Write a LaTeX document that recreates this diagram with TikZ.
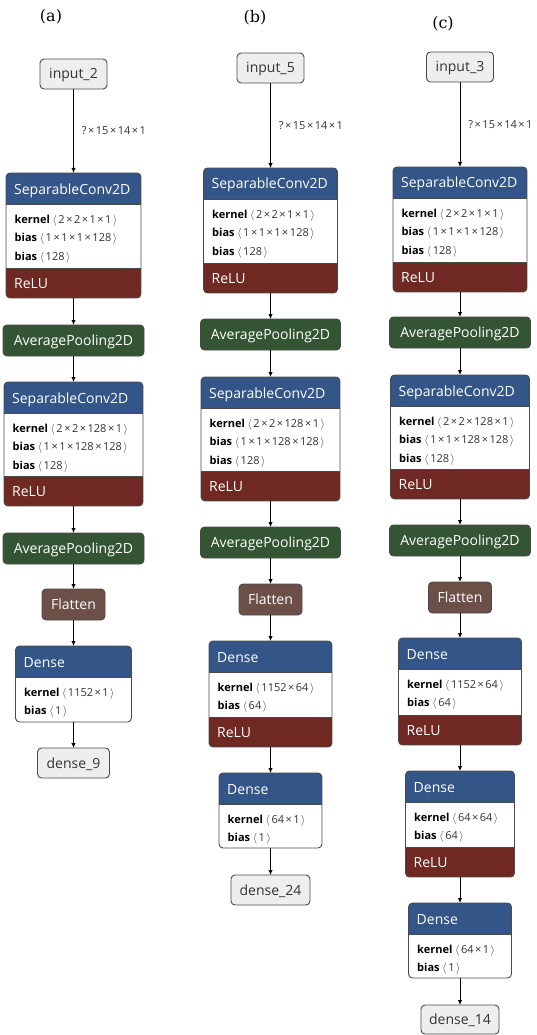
\documentclass[tikz,border=0pt]{standalone}
\usepackage{fontspec}
\setsansfont{Open Sans}
\newfontfamily\tagfont{DejaVu Serif}
\usetikzlibrary{arrows.meta}

\definecolor{convblue}{HTML}{335588}
\definecolor{relured}{HTML}{6F2922}
\definecolor{poolgreen}{HTML}{335533}
\definecolor{shapebrown}{HTML}{6C4F47}
\definecolor{iogray}{HTML}{EEEEEE}
\definecolor{bordergray}{HTML}{4A4A4A}
\definecolor{textgray}{HTML}{333333}

\newcommand{\headfont}{\sffamily\fontsize{14}{16}\selectfont}
\newcommand{\bodyfont}{\sffamily\fontsize{11}{18.5}\selectfont}
\newcommand{\tms}{\kern1.5pt×\kern1.5pt}
\newcommand{\dimsof}[1]{\textcolor{textgray}{$\langle$\kern1.5pt#1\kern1.5pt$\rangle$}}

\tikzset{
  layer/.style={draw=bordergray, line width=0.9pt, rounded corners=4pt, fill=white,
    anchor=north, inner sep=0pt, outer sep=0pt},
  io/.style={layer, fill=iogray, minimum height=30pt, font=\headfont, text=textgray,
    text height=10pt, text depth=0pt},
  pool/.style={layer, fill=poolgreen, minimum height=31pt, font=\headfont, text=white,
    text height=10pt, text depth=0pt},
  flat/.style={pool, fill=shapebrown},
  convhead/.style={path picture={
    \fill[convblue, sharp corners] (path picture bounding box.north west)
      rectangle ([yshift=-31pt]path picture bounding box.north east);
    \draw[bordergray, line width=0.6pt, sharp corners] ([yshift=-31pt]path picture bounding box.north west)
      -- ([yshift=-31pt]path picture bounding box.north east);}},
  convrelu/.style={path picture={
    \fill[convblue, sharp corners] (path picture bounding box.north west)
      rectangle ([yshift=-31pt]path picture bounding box.north east);
    \draw[bordergray, line width=0.6pt, sharp corners] ([yshift=-31pt]path picture bounding box.north west)
      -- ([yshift=-31pt]path picture bounding box.north east);
    \fill[relured, sharp corners] (path picture bounding box.south west)
      rectangle ([yshift=30pt]path picture bounding box.south east);
    \draw[bordergray, line width=0.6pt, sharp corners] ([yshift=30pt]path picture bounding box.south west)
      -- ([yshift=30pt]path picture bounding box.south east);}},
  headtxt/.style={anchor=base west, inner sep=0pt, font=\headfont, text=white},
  bodytxt/.style={anchor=north west, inner sep=0pt, align=left, font=\bodyfont, text=black},
  shapelbl/.style={right, xshift=7pt, inner sep=1pt, font=\bodyfont, text=textgray},
  arr/.style={draw=black, line width=0.9pt, -{Latex[length=5pt,width=4.5pt]}},
  tag/.style={font=\tagfont\fontsize{16}{19}\selectfont, inner sep=0pt}
}

\begin{document}
\begin{tikzpicture}[x=1pt,y=-1pt]
\useasboundingbox (0,0) rectangle (536,1035);

% (a)
\node[tag] (taga) at (51,17) {(a)};
\node[io, minimum width=67pt] (ina) at (73.5,59) {input\_2};
\node[layer, convrelu, minimum width=135pt, minimum height=125pt] (a1) at (73.5,173) {};
\node[headtxt] (a1h) at ([xshift=8pt,yshift=-21pt]a1.north west) {SeparableConv2D};
\node[bodytxt] (a1b) at ([xshift=8.5pt,yshift=-37pt]a1.north west) {\strut\textbf{kernel} \dimsof{2\tms2\tms1\tms1}\\\textbf{bias} \dimsof{1\tms1\tms1\tms128}\\\textbf{bias} \dimsof{128}};
\node[headtxt] (a1r) at ([xshift=8pt,yshift=10pt]a1.south west) {ReLU};
\node[pool, minimum width=141pt] (a2) at (73.5,325) {AveragePooling2D};
\node[layer, convrelu, minimum width=139pt, minimum height=124pt] (a3) at (73.5,382) {};
\node[headtxt] (a3h) at ([xshift=8pt,yshift=-21pt]a3.north west) {SeparableConv2D};
\node[bodytxt] (a3b) at ([xshift=8.5pt,yshift=-37pt]a3.north west) {\strut\textbf{kernel} \dimsof{2\tms2\tms128\tms1}\\\textbf{bias} \dimsof{1\tms1\tms128\tms128}\\\textbf{bias} \dimsof{128}};
\node[headtxt] (a3r) at ([xshift=8pt,yshift=10pt]a3.south west) {ReLU};
\node[pool, minimum width=141pt] (a4) at (73.5,533) {AveragePooling2D};
\node[flat, minimum width=63pt] (a5) at (73.5,589) {Flatten};
\node[layer, convhead, minimum width=116pt, minimum height=76pt] (a6) at (73.5,646) {};
\node[headtxt] (a6h) at ([xshift=8pt,yshift=-21pt]a6.north west) {Dense};
\node[bodytxt] (a6b) at ([xshift=8.5pt,yshift=-37pt]a6.north west) {\strut\textbf{kernel} \dimsof{1152\tms1}\\\textbf{bias} \dimsof{1}};
\node[io, minimum width=72pt] (outa) at (73.5,748) {dense\_9};

\draw[arr] (ina) -- node[shapelbl] {?\tms15\tms14\tms1} (a1);
\draw[arr] (a1) -- (a2);
\draw[arr] (a2) -- (a3);
\draw[arr] (a3) -- (a4);
\draw[arr] (a4) -- (a5);
\draw[arr] (a5) -- (a6);
\draw[arr] (a6) -- (outa);

% (b)
\node[tag] (tagb) at (255,18) {(b)};
\node[io, minimum width=67pt] (inb) at (270.5,53) {input\_5};
\node[layer, convrelu, minimum width=134pt, minimum height=125pt] (b1) at (270.5,168) {};
\node[headtxt] (b1h) at ([xshift=8pt,yshift=-21pt]b1.north west) {SeparableConv2D};
\node[bodytxt] (b1b) at ([xshift=8.5pt,yshift=-37pt]b1.north west) {\strut\textbf{kernel} \dimsof{2\tms2\tms1\tms1}\\\textbf{bias} \dimsof{1\tms1\tms1\tms128}\\\textbf{bias} \dimsof{128}};
\node[headtxt] (b1r) at ([xshift=8pt,yshift=10pt]b1.south west) {ReLU};
\node[pool, minimum width=140pt] (b2) at (270.5,319) {AveragePooling2D};
\node[layer, convrelu, minimum width=139pt, minimum height=124pt] (b3) at (270.5,377) {};
\node[headtxt] (b3h) at ([xshift=8pt,yshift=-21pt]b3.north west) {SeparableConv2D};
\node[bodytxt] (b3b) at ([xshift=8.5pt,yshift=-37pt]b3.north west) {\strut\textbf{kernel} \dimsof{2\tms2\tms128\tms1}\\\textbf{bias} \dimsof{1\tms1\tms128\tms128}\\\textbf{bias} \dimsof{128}};
\node[headtxt] (b3r) at ([xshift=8pt,yshift=10pt]b3.south west) {ReLU};
\node[pool, minimum width=140pt] (b4) at (270.5,527) {AveragePooling2D};
\node[flat, minimum width=63pt] (b5) at (270.5,584) {Flatten};
\node[layer, convrelu, minimum width=123pt, minimum height=106pt] (b6) at (270.5,641) {};
\node[headtxt] (b6h) at ([xshift=8pt,yshift=-21pt]b6.north west) {Dense};
\node[bodytxt] (b6b) at ([xshift=8.5pt,yshift=-37pt]b6.north west) {\strut\textbf{kernel} \dimsof{1152\tms64}\\\textbf{bias} \dimsof{64}};
\node[headtxt] (b6r) at ([xshift=8pt,yshift=10pt]b6.south west) {ReLU};
\node[layer, convhead, minimum width=103pt, minimum height=75pt] (b7) at (270.5,773) {};
\node[headtxt] (b7h) at ([xshift=8pt,yshift=-21pt]b7.north west) {Dense};
\node[bodytxt] (b7b) at ([xshift=8.5pt,yshift=-37pt]b7.north west) {\strut\textbf{kernel} \dimsof{64\tms1}\\\textbf{bias} \dimsof{1}};
\node[io, minimum width=79pt] (outb) at (270.5,875) {dense\_24};

\draw[arr] (inb) -- node[shapelbl] {?\tms15\tms14\tms1} (b1);
\draw[arr] (b1) -- (b2);
\draw[arr] (b2) -- (b3);
\draw[arr] (b3) -- (b4);
\draw[arr] (b4) -- (b5);
\draw[arr] (b5) -- (b6);
\draw[arr] (b6) -- (b7);
\draw[arr] (b7) -- (outb);

% (c)
\node[tag] (tagc) at (443,24) {(c)};
\node[io, minimum width=67pt] (inc) at (460,52) {input\_3};
\node[layer, convrelu, minimum width=134pt, minimum height=125pt] (c1) at (460,167) {};
\node[headtxt] (c1h) at ([xshift=8pt,yshift=-21pt]c1.north west) {SeparableConv2D};
\node[bodytxt] (c1b) at ([xshift=8.5pt,yshift=-37pt]c1.north west) {\strut\textbf{kernel} \dimsof{2\tms2\tms1\tms1}\\\textbf{bias} \dimsof{1\tms1\tms1\tms128}\\\textbf{bias} \dimsof{128}};
\node[headtxt] (c1r) at ([xshift=8pt,yshift=10pt]c1.south west) {ReLU};
\node[pool, minimum width=141pt] (c2) at (460,317) {AveragePooling2D};
\node[layer, convrelu, minimum width=139pt, minimum height=124pt] (c3) at (460,375) {};
\node[headtxt] (c3h) at ([xshift=8pt,yshift=-21pt]c3.north west) {SeparableConv2D};
\node[bodytxt] (c3b) at ([xshift=8.5pt,yshift=-37pt]c3.north west) {\strut\textbf{kernel} \dimsof{2\tms2\tms128\tms1}\\\textbf{bias} \dimsof{1\tms1\tms128\tms128}\\\textbf{bias} \dimsof{128}};
\node[headtxt] (c3r) at ([xshift=8pt,yshift=10pt]c3.south west) {ReLU};
\node[pool, minimum width=141pt] (c4) at (460,525) {AveragePooling2D};
\node[flat, minimum width=63pt] (c5) at (460,582) {Flatten};
\node[layer, convrelu, minimum width=123pt, minimum height=107pt] (c6) at (460,638) {};
\node[headtxt] (c6h) at ([xshift=8pt,yshift=-21pt]c6.north west) {Dense};
\node[bodytxt] (c6b) at ([xshift=8.5pt,yshift=-37pt]c6.north west) {\strut\textbf{kernel} \dimsof{1152\tms64}\\\textbf{bias} \dimsof{64}};
\node[headtxt] (c6r) at ([xshift=8pt,yshift=10pt]c6.south west) {ReLU};
\node[layer, convrelu, minimum width=109pt, minimum height=106pt] (c7) at (460,771) {};
\node[headtxt] (c7h) at ([xshift=8pt,yshift=-21pt]c7.north west) {Dense};
\node[bodytxt] (c7b) at ([xshift=8.5pt,yshift=-37pt]c7.north west) {\strut\textbf{kernel} \dimsof{64\tms64}\\\textbf{bias} \dimsof{64}};
\node[headtxt] (c7r) at ([xshift=8pt,yshift=10pt]c7.south west) {ReLU};
\node[layer, convhead, minimum width=103pt, minimum height=75pt] (c8) at (460,903) {};
\node[headtxt] (c8h) at ([xshift=8pt,yshift=-21pt]c8.north west) {Dense};
\node[bodytxt] (c8b) at ([xshift=8.5pt,yshift=-37pt]c8.north west) {\strut\textbf{kernel} \dimsof{64\tms1}\\\textbf{bias} \dimsof{1}};
\node[io, minimum width=78pt, minimum height=29pt] (outc) at (460,1005) {dense\_14};

\draw[arr] (inc) -- node[shapelbl] {?\tms15\tms14\tms1} (c1);
\draw[arr] (c1) -- (c2);
\draw[arr] (c2) -- (c3);
\draw[arr] (c3) -- (c4);
\draw[arr] (c4) -- (c5);
\draw[arr] (c5) -- (c6);
\draw[arr] (c6) -- (c7);
\draw[arr] (c7) -- (c8);
\draw[arr] (c8) -- (outc);
\end{tikzpicture}
\end{document}
